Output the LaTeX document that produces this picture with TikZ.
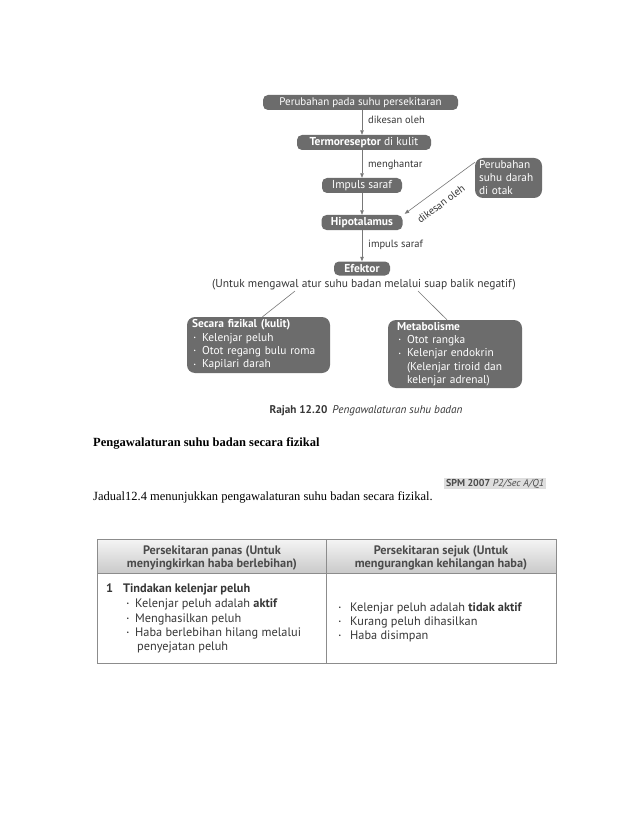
\documentclass[tikz,border=0pt]{standalone}
\usepackage{fontspec}
\setmainfont{Liberation Serif}
\newfontfamily\ptsans{PT Sans}
\usetikzlibrary{arrows.meta}
\definecolor{boxgray}{RGB}{108,108,108}
\definecolor{linegray}{RGB}{120,120,120}
\definecolor{txtgray}{RGB}{55,55,55}
\definecolor{hdrgray}{RGB}{75,75,75}
\definecolor{spmgray}{RGB}{222,222,222}
\definecolor{tblline}{RGB}{140,140,140}
\newcommand\bul{\makebox[10pt][l]{\hspace{1.5pt}\raisebox{0.3ex}{\scalebox{0.45}{\textbullet}}}}
\begin{document}
\begin{tikzpicture}[x=1pt,y=-1pt,
  flowbox/.style={rounded corners=5pt, fill=boxgray, text=white, font=\ptsans\fontsize{11.5}{13}\selectfont, inner sep=0pt, minimum height=15pt},
  bigbox/.style={rounded corners=8pt, fill=boxgray, text=white, font=\ptsans\fontsize{11.4}{13.3}\selectfont, inner sep=0pt, align=left},
  lbl/.style={font=\ptsans\fontsize{10.5}{12}\selectfont, text=txtgray, inner sep=0pt},
  arr/.style={draw=linegray, line width=0.6pt, -{Triangle[length=4.5pt,width=3.5pt]}},
  conn/.style={draw=linegray, line width=0.6pt},
  tb/.style={font=\ptsans\fontsize{12.3}{14}\selectfont, text=txtgray, inner sep=0pt, anchor=base west},
  hdr/.style={font=\ptsans\bfseries\fontsize{12.3}{12.5}\selectfont, text=hdrgray, inner sep=0pt, align=center},
  serif/.style={inner sep=0pt, anchor=base west, font=\fontsize{12.5}{14}\selectfont}]
\path[use as bounding box, fill=white] (0,0) rectangle (638,826);

% flow chart
\node[flowbox, minimum width=195pt, font=\ptsans\fontsize{11}{13}\selectfont] (top) at (360.5,102.5) {Perubahan pada suhu persekitaran};
\node[flowbox, minimum width=134pt] (termo) at (364,142.5) {\textbf{Termoreseptor} di kulit};
\node[flowbox, minimum width=80pt] (imp) at (362,185.5) {Impuls saraf};
\node[flowbox, minimum width=81pt] (hipo) at (362,222.5) {\textbf{Hipotalamus}};
\node[flowbox, minimum width=56pt, minimum height=14pt] (efek) at (362,268.5) {\textbf{Efektor}};
\node[flowbox, rounded corners=8pt, minimum width=67pt, minimum height=40pt, align=left, text width=59pt, font=\ptsans\fontsize{11.3}{13}\selectfont] (perub) at (508.5,178) {Perubahan\\suhu darah\\di otak};

\draw[arr] (top.south -| imp) -- (termo.north -| imp);
\draw[arr] (termo.south -| imp) -- (imp.north);
\draw[arr] (imp.south) -- (hipo.north);
\draw[arr] (hipo.south) -- (efek.north);
\draw[arr] (perub.155) -- ([xshift=2pt,yshift=1pt]hipo.north east);

\node[lbl, anchor=west] (l1) at (368,120) {dikesan oleh};
\node[lbl, anchor=west] (l2) at (368,165) {menghantar};
\node[lbl, anchor=west] (l3) at (368,245) {impuls saraf};
\node[lbl, rotate=37] (l4) at (441,204) {dikesan oleh};

\node[font=\ptsans\fontsize{11.5}{13}\selectfont, text=txtgray, inner sep=1pt] (note) at (364,284.5) {(Untuk mengawal atur suhu badan melalui suap balik negatif)};

\node[bigbox, minimum width=143pt, minimum height=56pt, text width=133pt] (kulit) at (258.5,345) {\textbf{Secara fizikal (kulit)}\\\bul Kelenjar peluh\\\bul Otot regang bulu roma\\\bul Kapilari darah};
\node[bigbox, minimum width=134pt, minimum height=68pt, text width=116pt] (meta) at (455,354) {\textbf{Metabolisme}\\\bul Otot rangka\\\bul Kelenjar endokrin\\\hspace*{10pt}(Kelenjar tiroid dan\\\hspace*{10pt}kelenjar adrenal)};

\draw[conn] ([xshift=-69pt]note.south) -- ([xshift=4pt]kulit.north);
\draw[conn] ([xshift=54pt]note.south) -- ([xshift=-8pt]meta.north);

\node[font=\ptsans\fontsize{11.2}{12}\selectfont, text=txtgray, inner sep=0pt] (cap) at (366,410.5) {\textbf{Rajah 12.20}\hspace{5pt}\textit{Pengawalaturan suhu badan}};

% page text
\node[serif, font=\bfseries\fontsize{12.5}{14}\selectfont] (head) at (93,446.5) {Pengawalaturan suhu badan secara fizikal};
\node[fill=spmgray, font=\ptsans\fontsize{10}{11}\selectfont, text=hdrgray, inner xsep=2pt, inner ysep=1.5pt] (spm) at (495,483.5) {\textbf{SPM 2007} \textit{P2/Sec A/Q1}};
\node[serif] (jad) at (93,500) {Jadual12.4 menunjukkan pengawalaturan suhu badan secara fizikal.};

% table
\shade[top color=gray!8, bottom color=gray!42] (97,539) rectangle (556,573);
\draw[tblline, line width=0.6pt] (97,539) rectangle (556,663);
\draw[tblline, line width=0.6pt] (97,573) -- (556,573);
\draw[tblline, line width=0.6pt] (326,539) -- (326,663);

\node[hdr] (h1) at (212,558) {Persekitaran panas (Untuk\\menyingkirkan haba berlebihan)};
\node[hdr] (h2) at (441,558) {Persekitaran sejuk (Untuk\\mengurangkan kehilangan haba)};

\node[tb, font=\ptsans\bfseries\fontsize{12.3}{14}\selectfont] (n1) at (106,592) {1};
\node[tb, font=\ptsans\bfseries\fontsize{12.3}{14}\selectfont] (t1) at (123,592) {Tindakan kelenjar peluh};
\node[tb] (a1) at (125,607) {\bul Kelenjar peluh adalah \textbf{aktif}};
\node[tb] (a2) at (125,622) {\bul Menghasilkan peluh};
\node[tb] (a3) at (125,636) {\bul Haba berlebihan hilang melalui};
\node[tb] (a4) at (137,650) {penyejatan peluh};

\node[tb] (b1) at (337,611) {\bul\hspace{3pt}Kelenjar peluh adalah \textbf{tidak aktif}};
\node[tb] (b2) at (337,625) {\bul\hspace{3pt}Kurang peluh dihasilkan};
\node[tb] (b3) at (337,639) {\bul\hspace{3pt}Haba disimpan};
\end{tikzpicture}
\end{document}
